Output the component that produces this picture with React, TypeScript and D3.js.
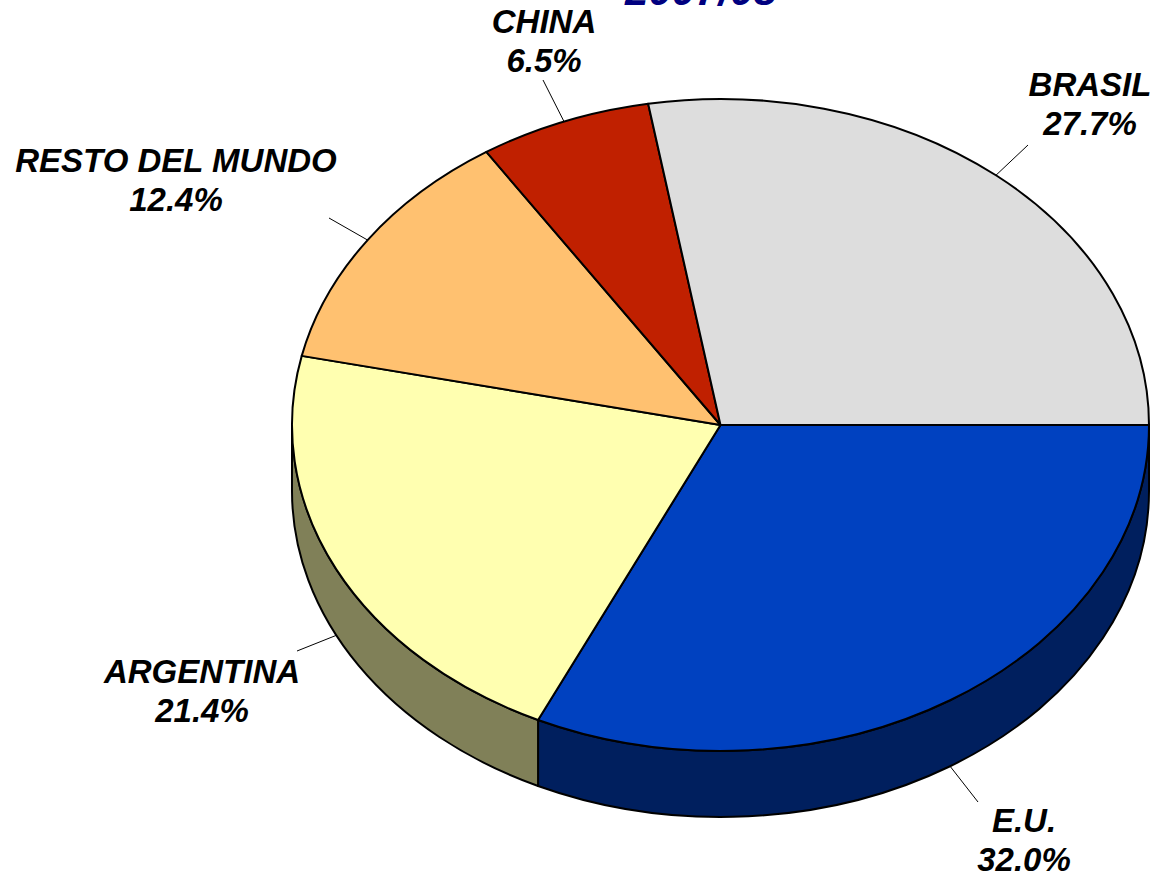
import React from "react";
import * as d3 from "d3";

const countries = ["E.U.", "ARGENTINA", "RESTO DEL MUNDO", "CHINA", "BRASIL"];
const shares = [32.0, 21.4, 12.4, 6.5, 27.7];
const topColors = ["#0041C0", "#FFFFB0", "#FFC170", "#C02000", "#DDDDDD"];
const sideColors = ["#001F5E", "#808058", "#B08850", "#801500", "#A0A0A0"];
const titleText = "2007/08";

// layout (label anchor points and leader tips)
const labelLayout = [
  { x: 1024, y: 832, lx: 978, ly: 802, onSide: true, angleDeg: null as number | null },
  { x: 202, y: 683, lx: 297, ly: 651, onSide: true, angleDeg: null },
  { x: 176, y: 172, lx: 329, ly: 218, onSide: false, angleDeg: null },
  { x: 544, y: 33, lx: 543, ly: 80, onSide: false, angleDeg: null },
  { x: 1090, y: 96, lx: 1028, ly: 145, onSide: false, angleDeg: 310 },
];

const W = 1158;
const H = 877;
const cx = 720.5;
const cy = 425;
const rx = 428.5;
const ry = 326;
const depth = 66;

export default function App() {
  const pie = d3
    .pie<number>()
    .sort(null)
    .startAngle(Math.PI / 2)
    .endAngle(Math.PI / 2 + 2 * Math.PI);
  const arcs = pie(shares);
  const toT = (a: number) => a - Math.PI / 2;
  const pt = (t: number, dy = 0): [number, number] => [cx + rx * Math.cos(t), cy + dy + ry * Math.sin(t)];

  const topPath = (t1: number, t2: number) => {
    const p1 = pt(t1);
    const p2 = pt(t2);
    const large = t2 - t1 > Math.PI ? 1 : 0;
    return `M${cx},${cy}L${p1[0]},${p1[1]}A${rx},${ry} 0 ${large} 1 ${p2[0]},${p2[1]}Z`;
  };
  const sidePath = (t1: number, t2: number) => {
    const a = Math.max(t1, 0);
    const b = Math.min(t2, Math.PI);
    if (b <= a) return null;
    const p1 = pt(a);
    const p2 = pt(b);
    const q2 = pt(b, depth);
    const q1 = pt(a, depth);
    return `M${p1[0]},${p1[1]}A${rx},${ry} 0 0 1 ${p2[0]},${p2[1]}L${q2[0]},${q2[1]}A${rx},${ry} 0 0 0 ${q1[0]},${q1[1]}Z`;
  };

  const font = "'Liberation Sans', Arial, sans-serif";

  return (
    <svg
      width={W}
      height={H}
      style={{ position: "absolute", left: 0, top: 0, display: "block", background: "#fff" }}
    >
      <text
        x={701}
        y={5}
        textAnchor="middle"
        fontFamily={font}
        fontWeight="bold"
        fontStyle="italic"
        fontSize={42}
        fill="#000080"
      >
        {titleText}
      </text>
      <g>
        {arcs.map((d, i) => {
          const p = sidePath(toT(d.startAngle), toT(d.endAngle));
          return p ? (
            <path key={"s" + i} d={p} fill={sideColors[i]} stroke="#000" strokeWidth={2} strokeLinejoin="round" />
          ) : null;
        })}
      </g>
      <g>
        {arcs.map((d, i) => (
          <path
            key={"t" + i}
            d={topPath(toT(d.startAngle), toT(d.endAngle))}
            fill={topColors[i]}
            stroke="#000"
            strokeWidth={2}
            strokeLinejoin="round"
          />
        ))}
      </g>
      <g>
        {arcs.map((d, i) => {
          const L = labelLayout[i];
          const mid = L.angleDeg != null ? (L.angleDeg * Math.PI) / 180 : toT((d.startAngle + d.endAngle) / 2);
          const e = pt(mid, L.onSide ? depth : 0);
          return (
            <g key={"l" + i}>
              <line x1={e[0]} y1={e[1]} x2={L.lx} y2={L.ly} stroke="#000" strokeWidth={1} />
              <text
                x={L.x}
                y={L.y}
                textAnchor="middle"
                fontFamily={font}
                fontWeight="bold"
                fontStyle="italic"
                fontSize={33}
                fill="#000"
              >
                <tspan x={L.x} y={L.y}>{countries[i]}</tspan>
                <tspan x={L.x} y={L.y + 39}>{shares[i].toFixed(1) + "%"}</tspan>
              </text>
            </g>
          );
        })}
      </g>
    </svg>
  );
}
